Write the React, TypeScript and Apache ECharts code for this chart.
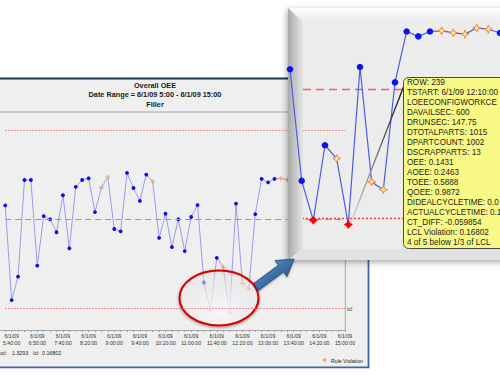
import React, { useEffect, useRef } from "react";
import * as echarts from "echarts";

// ---- data ----
const oeeValues = [
  0.84, 0.226, 0.378, 1.005, 1.005, 0.449, 0.771, 0.75, 0.666, 0.906,
  0.562, 0.96, 1.005, 1.016, 0.797, 0.955, 1.023, 0.687, 0.672, 1.051,
  0.953, 0.869, 1.04, 0.994, 0.629, 0.786, 0.57, 0.75, 0.544, 0.765,
  0.842, 0.34, 0.162, 0.5, 0.44, 0.1431, 0.852, 0.335, 0.3, 0.783,
  1.012, 0.99, 1.012, 1.015, 1.006, 1.0, 1.028, 1.022, 1.005, 0.99,
  1.0, 0.985, 1.0, 0.995,
];
const ruleViolationIdx = [15, 16, 23, 34, 37, 38, 43, 44, 45, 46, 47];
const lclViolationIdx = [32, 35];
const timeLabels = [
  "5:40:00", "6:50:00", "7:40:00", "8:20:00", "9:00:00", "9:40:00", "10:20:00",
  "11:00:00", "11:40:00", "12:20:00", "13:00:00", "13:40:00", "14:20:00", "15:00:00",
];
const UCL = 1.3293;
const LCL = 0.16802;
const CL = 0.74866;
const titleLines = ["Overall OEE", "Date Range = 6/1/09 5:00 - 6/1/09 15:00", "Filler"];
// visible (clipped) part of the tooltip lines
const tooltipLines = [
  "ROW: 239",
  "TSTART: 6/1/09 12:10:00",
  "LOEECONFIGWORKCE",
  "DAVAILSEC: 600",
  "DRUNSEC: 147.75",
  "DTOTALPARTS: 1015",
  "DPARTCOUNT: 1002",
  "DSCRAPPARTS: 13",
  "OEE: 0.1431",
  "AOEE: 0.2463",
  "TOEE: 0.5888",
  "QOEE: 0.9872",
  "DIDEALCYCLETIME: 0.0",
  "ACTUALCYCLETIME: 0.1",
  "CT_DIFF: -0.059854",
  "LCL Violation: 0.16802",
  "4 of 5 below 1/3 of LCL",
];
const calloutFrom = 29;
const calloutTo = 50;

const FONT = "Liberation Sans, Arial, sans-serif";
const PLUS =
  "path://M-1,-0.28 L-0.28,-0.28 L-0.28,-1 L0.28,-1 L0.28,-0.28 L1,-0.28 L1,0.28 L0.28,0.28 L0.28,1 L-0.28,1 L-0.28,0.28 L-1,0.28 Z";
const STAR = "path://M0,-1 L0.3,-0.3 L1,0 L0.3,0.3 L0,1 L-0.3,0.3 L-1,0 L-0.3,-0.3 Z";
const RED_STAR = "path://M0,-1 L0.42,-0.42 L1,0 L0.42,0.42 L0,1 L-0.42,0.42 L-1,0 L-0.42,-0.42 Z";

function txt(x: number, y: number, text: string, extra: any = {}, z = 3) {
  return {
    type: "text",
    x,
    y,
    z,
    silent: true,
    style: {
      text,
      fill: "#222",
      fontFamily: FONT,
      fontSize: 5.3,
      textAlign: "left",
      align: "left",
      textVerticalAlign: "middle",
      verticalAlign: "middle",
      ...extra,
    },
  };
}

export default function App() {
  const ref = useRef<HTMLDivElement>(null);

  useEffect(() => {
    if (!ref.current) return;
    const chart = echarts.init(ref.current, undefined, { renderer: "svg" });

    const mainData = oeeValues.map((v, i) => {
      if (lclViolationIdx.includes(i))
        return { value: v, symbol: RED_STAR, symbolSize: 5.5, itemStyle: { color: "#ff4040" } };
      if (ruleViolationIdx.includes(i))
        return { value: v, symbol: PLUS, symbolSize: 4.5, itemStyle: { color: "#f4a460" } };
      return { value: v };
    });

    const calloutData = oeeValues.slice(calloutFrom, calloutTo + 1).map((v, k) => {
      const i = calloutFrom + k;
      if (i === calloutFrom) return { value: [i, v], symbol: "none" };
      if (lclViolationIdx.includes(i))
        return { value: [i, v], symbol: RED_STAR, symbolSize: 9, itemStyle: { color: "#ff0000" } };
      if (ruleViolationIdx.includes(i))
        return {
          value: [i, v],
          symbol: STAR,
          symbolSize: 8,
          itemStyle: { color: "#fde2bd", borderColor: "#f0882a", borderWidth: 1 },
        };
      return { value: [i, v] };
    });

    // arrow geometry
    const arrow = [
      [253.5, 283.6], [278.6, 265.1], [275.2, 260.5], [294, 259],
      [287.0, 276.6], [283.6, 271.9], [258.5, 290.4],
    ];

    const graphics: any[] = [
      // main panel
      { type: "rect", z: 0, silent: true, shape: { x: 0, y: 79, width: 368, height: 288 }, style: { fill: "#efefef" } },
      { type: "line", z: 1, silent: true, shape: { x1: 0, y1: 78.5, x2: 292, y2: 78.5 }, style: { stroke: "#1b3557", lineWidth: 1.8 } },
      { type: "line", z: 1, silent: true, shape: { x1: 0, y1: 112, x2: 292, y2: 112 }, style: { stroke: "#a4a4a4", lineWidth: 1 } },
      { type: "line", z: 1, silent: true, shape: { x1: 368.5, y1: 255, x2: 368.5, y2: 367.5 }, style: { stroke: "#3f66a0", lineWidth: 1.8 } },
      { type: "line", z: 1, silent: true, shape: { x1: 0, y1: 367.3, x2: 369.4, y2: 367.3 }, style: { stroke: "#3f66a0", lineWidth: 1.8 } },
      { type: "line", z: 1, silent: true, shape: { x1: 345.3, y1: 113, x2: 345.3, y2: 330.5 }, style: { stroke: "#a8a8a8", lineWidth: 1 } },
      { type: "line", z: 1, silent: true, shape: { x1: 0, y1: 330.5, x2: 345.8, y2: 330.5 }, style: { stroke: "#a8a8a8", lineWidth: 1 } },
      ...titleLines.map((t, i) =>
        txt(155, 85 + i * 9.6, t, { fontSize: 7.3, fontWeight: "bold", textAlign: "center", align: "center", fill: "#1a1a1a" }, 1)
      ),
      txt(7, 353, "ucl:", { textAlign: "right", align: "right" }),
      txt(12, 353, "1.3293"),
      txt(33, 353, "lcl:"),
      txt(42, 353, "0.16802"),
      txt(331, 360.5, "Rule Violation", { fontSize: 5.2 }),
      {
        type: "polygon",
        z: 3,
        silent: true,
        shape: {
          points: [
            [322.5, 359.3], [323.8, 359.3], [323.8, 358], [325.2, 358], [325.2, 359.3], [326.5, 359.3],
            [326.5, 360.7], [325.2, 360.7], [325.2, 362], [323.8, 362], [323.8, 360.7], [322.5, 360.7],
          ],
        },
        style: { fill: "#f4a460" },
      },
      // highlight ellipse
      {
        type: "ellipse",
        z: 4,
        silent: true,
        shape: { cx: 219, cy: 298, rx: 39.5, ry: 27.5 },
        style: {
          fill: {
            type: "radial",
            x: 0.5,
            y: 0.75,
            r: 0.75,
            colorStops: [
              { offset: 0, color: "rgba(255,255,255,0.88)" },
              { offset: 1, color: "rgba(255,255,255,0.3)" },
            ],
          },
          stroke: "#d60000",
          lineWidth: 2,
          shadowBlur: 3,
          shadowColor: "rgba(0,0,0,0.45)",
          shadowOffsetY: 1,
        },
      },
      // callout panel
      {
        type: "rect",
        z: 5,
        silent: true,
        shape: { x: 288, y: 8, width: 230, height: 252 },
        style: { fill: "#ececec", shadowBlur: 6, shadowColor: "rgba(0,0,0,0.35)", shadowOffsetX: -1, shadowOffsetY: 2 },
      },
      {
        type: "polygon",
        z: 6,
        silent: true,
        shape: { points: [[288, 8], [303, 22], [520, 22], [520, 8]] },
        style: {
          fill: { type: "linear", x: 0, y: 0, x2: 0, y2: 1, colorStops: [{ offset: 0, color: "#fdfdfd" }, { offset: 1, color: "#ebebeb" }] },
        },
      },
      {
        type: "polygon",
        z: 6,
        silent: true,
        shape: { points: [[288, 8], [303, 22], [303, 249], [288, 260]] },
        style: {
          fill: { type: "linear", x: 0, y: 0, x2: 1, y2: 0, colorStops: [{ offset: 0, color: "#a9a9a9" }, { offset: 1, color: "#e6e6e6" }] },
        },
      },
      {
        type: "polygon",
        z: 6,
        silent: true,
        shape: { points: [[288, 260], [303, 249], [520, 249], [520, 260]] },
        style: { fill: "#e2e2e2" },
      },
      // tooltip pointer
      {
        type: "line",
        z: 11,
        silent: true,
        shape: { x1: 403.5, y1: 87, x2: 351.5, y2: 221 },
        style: {
          stroke: { type: "linear", x: 0, y: 0, x2: 0, y2: 1, colorStops: [{ offset: 0, color: "#111" }, { offset: 1, color: "#d0d0d0" }] },
          lineWidth: 1.3,
        },
      },
      {
        type: "rect",
        z: 12,
        silent: true,
        shape: { x: 403.5, y: 77.5, width: 120, height: 171, r: 5 },
        style: { fill: "#f8f884", stroke: "#4a4a4a", lineWidth: 1 },
      },
      {
        type: "text",
        z: 13,
        silent: true,
        x: 407,
        y: 77,
        style: {
          text: tooltipLines.join("\n"),
          fill: "#1e1e1e",
          fontFamily: FONT,
          fontSize: 8.15,
          lineHeight: 10.05,
          textAlign: "left",
          align: "left",
          textVerticalAlign: "top",
          verticalAlign: "top",
        },
      },
      // arrow
      {
        type: "polygon",
        z: 14,
        silent: true,
        shape: { points: arrow },
        style: {
          fill: {
            type: "linear",
            x: 0,
            y: 0,
            x2: 1,
            y2: 1,
            colorStops: [
              { offset: 0, color: "#7aa6d8" },
              { offset: 0.5, color: "#3d6fa8" },
              { offset: 1, color: "#254e80" },
            ],
          },
          stroke: "#1e4470",
          lineWidth: 0.8,
          shadowBlur: 2,
          shadowColor: "rgba(0,0,0,0.35)",
          shadowOffsetY: 1,
        },
      },
    ];

    const option: any = {
      animation: false,
      backgroundColor: "#ffffff",
      textStyle: { fontFamily: FONT },
      grid: [
        { left: -3.3, right: 155, top: 113, bottom: 45, show: false },
        { left: 290, right: 0, top: 8, bottom: 115, show: false },
      ],
      xAxis: [
        {
          type: "category",
          gridIndex: 0,
          z: 3,
          boundaryGap: false,
          data: oeeValues.map((_, i) => String(i)),
          axisLine: { show: false },
          axisTick: { show: true, interval: 0, length: 2, lineStyle: { color: "#a0a0a0" } },
          axisLabel: {
            interval: (index: number) => (index - 1) % 4 === 0,
            formatter: (_v: string, index: number) =>
              (index - 1) % 4 === 0 ? "6/1/09\n" + timeLabels[(index - 1) / 4] : "",
            fontSize: 5.2,
            lineHeight: 6.8,
            color: "#333",
            margin: 3,
            fontFamily: FONT,
          },
          splitLine: { show: false },
        },
        {
          type: "value",
          gridIndex: 1,
          min: 30,
          max: 48,
          show: false,
          splitLine: { show: false },
        },
      ],
      yAxis: [
        { type: "value", gridIndex: 0, min: 0.03178, max: 1.4396, show: false, splitLine: { show: false } },
        { type: "value", gridIndex: 1, min: -0.0165, max: 1.1177, show: false, splitLine: { show: false } },
      ],
      series: [
        {
          type: "line",
          xAxisIndex: 0,
          yAxisIndex: 0,
          z: 2,
          data: mainData,
          symbol: "circle",
          symbolSize: 3.8,
          showSymbol: true,
          showAllSymbol: true,
          itemStyle: { color: "#0c0ce6" },
          lineStyle: { color: "#9c9cec", width: 1 },
          silent: true,
          markLine: {
            silent: true,
            symbol: "none",
            data: [
              { yAxis: UCL, lineStyle: { type: [1.5, 1.5], color: "#f07878", width: 1 }, label: { show: false } },
              { yAxis: CL, lineStyle: { type: [6, 4], color: "#ff6a6a", width: 1 }, label: { show: false } },
              {
                yAxis: LCL,
                lineStyle: { type: [1.5, 1.5], color: "#f07878", width: 1 },
                label: { show: true, formatter: "lcl", position: "end", distance: 2, fontSize: 5.5, color: "#333" },
              },
            ],
          },
        },
        {
          type: "line",
          xAxisIndex: 1,
          yAxisIndex: 1,
          z: 10,
          clip: true,
          data: calloutData,
          symbol: "circle",
          symbolSize: 6.5,
          showAllSymbol: true,
          itemStyle: { color: "#0c14e8" },
          lineStyle: { color: "#4c5ce6", width: 1.2 },
          silent: true,
          markLine: {
            silent: true,
            symbol: "none",
            data: [
              { yAxis: CL, lineStyle: { type: [8, 5], color: "#ff5c5c", width: 1.3 }, label: { show: false } },
              { yAxis: LCL, lineStyle: { type: [2, 2], color: "#f03c3c", width: 1.3 }, label: { show: false } },
            ],
          },
        },
      ],
      graphic: graphics,
    };

    chart.setOption(option);
    return () => chart.dispose();
  }, []);

  return (
    <div
      ref={ref}
      style={{ position: "absolute", left: 0, top: 0, width: 500, height: 375 }}
    />
  );
}
